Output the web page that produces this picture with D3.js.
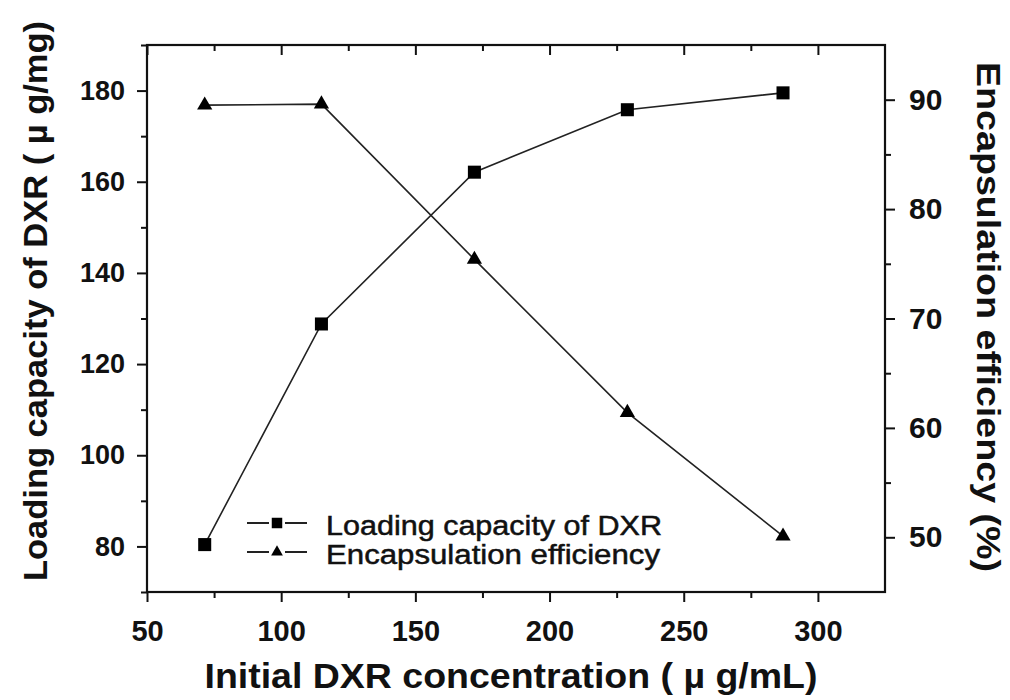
<!DOCTYPE html>
<html>
<head>
<meta charset="utf-8">
<script src="https://cdn.jsdelivr.net/npm/d3@7"></script>
<style>
  html, body { margin: 0; padding: 0; background: #fff; }
  svg { display: block; }
  text { font-family: "Liberation Sans", Arial, sans-serif; fill: #111; }
</style>
</head>
<body>
<svg id="chart" width="1010" height="700"></svg>
<script>
// Initial DXR concentration (µg/mL)
const concentration = [71.5, 115, 172, 229, 287];
// Loading capacity of DXR (µg/mg), left axis
const loadingCapacity = [80.4, 128.8, 162.1, 175.8, 179.5];
// Encapsulation efficiency (%), right axis
const encapsulation = [89.5, 89.6, 75.4, 61.4, 50.1];

const xTicks = [50, 100, 150, 200, 250, 300];
const leftTicks = [80, 100, 120, 140, 160, 180];
const rightTicks = [50, 60, 70, 80, 90];

const seriesNames = ["Loading capacity of DXR", "Encapsulation efficiency"];

const W = 1010, H = 700;
const m = { left: 147, right: 125, top: 45, bottom: 108 };
const iw = W - m.left - m.right, ih = H - m.top - m.bottom;

const svg = d3.select("#chart");
const g = svg.append("g").attr("transform", `translate(${m.left},${m.top})`);

const x = d3.scaleLinear().domain([50, 325]).range([0, iw]);
const yL = d3.scaleLinear().domain([70, 190]).range([ih, 0]);
const yR = d3.scaleLinear().domain([45, 95]).range([ih, 0]);

const ink = "#111";
const fam = "'Liberation Sans', Arial, sans-serif";

function styleAxis(size) {
  return sel => {
    sel.select(".domain").remove();
    sel.selectAll("line").attr("stroke", ink).attr("stroke-width", 2);
    sel.selectAll("text").style("font", `bold ${size}px ${fam}`).attr("fill", ink);
  };
}

// minor tick positions
const xMinor = d3.range(75, 325, 50);
const lMinor = d3.range(70, 191, 20);
const rMinor = d3.range(55, 95, 10);

// bottom axis (outward ticks)
g.append("g").attr("transform", `translate(0,${ih})`)
  .call(d3.axisBottom(x).tickValues(xTicks).tickSize(10).tickPadding(18).tickFormat(d3.format("d")))
  .call(styleAxis(29));
g.append("g").attr("transform", `translate(0,${ih})`)
  .call(d3.axisBottom(x).tickValues(xMinor).tickSize(6).tickFormat(""))
  .call(styleAxis(29));

// top axis (inward ticks)
g.append("g")
  .call(d3.axisBottom(x).tickValues(xTicks).tickSize(10).tickFormat(""))
  .call(styleAxis(29));
g.append("g")
  .call(d3.axisBottom(x).tickValues(xMinor).tickSize(6).tickFormat(""))
  .call(styleAxis(29));

// left axis
g.append("g")
  .call(d3.axisLeft(yL).tickValues(leftTicks).tickSize(10).tickPadding(12).tickFormat(d3.format("d")))
  .call(styleAxis(27));
g.append("g")
  .call(d3.axisLeft(yL).tickValues(lMinor).tickSize(6).tickFormat(""))
  .call(styleAxis(27));

// right axis
g.append("g").attr("transform", `translate(${iw},0)`)
  .call(d3.axisRight(yR).tickValues(rightTicks).tickSize(10).tickPadding(14).tickFormat(d3.format("d")))
  .call(styleAxis(30));
g.append("g").attr("transform", `translate(${iw},0)`)
  .call(d3.axisRight(yR).tickValues(rMinor).tickSize(6).tickFormat(""))
  .call(styleAxis(30));

// frame
g.append("rect").attr("width", iw).attr("height", ih)
  .attr("fill", "none").attr("stroke", ink).attr("stroke-width", 2.2);

// series
const loadData = concentration.map((c, i) => ({ x: c, y: loadingCapacity[i] }));
const encData = concentration.map((c, i) => ({ x: c, y: encapsulation[i] }));

g.append("path").datum(loadData)
  .attr("fill", "none").attr("stroke", "#222").attr("stroke-width", 1.6)
  .attr("d", d3.line().x(d => x(d.x)).y(d => yL(d.y)));
g.append("path").datum(encData)
  .attr("fill", "none").attr("stroke", "#222").attr("stroke-width", 1.6)
  .attr("d", d3.line().x(d => x(d.x)).y(d => yR(d.y)));

const sq = d3.symbol().type(d3.symbolSquare).size(170);
const tri = d3.symbol().type(d3.symbolTriangle).size(100);

g.selectAll(".sq").data(loadData).join("path")
  .attr("d", sq).attr("fill", "#000")
  .attr("transform", d => `translate(${x(d.x)},${yL(d.y)})`);
g.selectAll(".tri").data(encData).join("path")
  .attr("d", tri).attr("fill", "#000")
  .attr("transform", d => `translate(${x(d.x)},${yR(d.y)})`);

// legend
const leg = g.append("g").attr("transform", `translate(${247 - m.left},${523 - m.top})`);
const legSyms = [d3.symbol().type(d3.symbolSquare).size(110), d3.symbol().type(d3.symbolTriangle).size(60)];
seriesNames.forEach((name, i) => {
  const row = leg.append("g").attr("transform", `translate(0,${i * 29})`);
  row.append("line").attr("x1", 0).attr("x2", 60).attr("y1", 0).attr("y2", 0)
    .attr("stroke", "#222").attr("stroke-width", 2);
  row.append("rect").attr("x", 22).attr("y", -7).attr("width", 16).attr("height", 14).attr("fill", "#fff");
  row.append("path").attr("d", legSyms[i]).attr("fill", "#000").attr("transform", "translate(30,0)");
  row.append("text").attr("x", 79).attr("y", 12)
    .style("font", `27px ${fam}`)
    .attr("stroke", "#111").attr("stroke-width", 0.5)
    .attr("textLength", i === 0 ? 336 : 334).attr("lengthAdjust", "spacingAndGlyphs")
    .text(name);
});

// axis titles
svg.append("text")
  .attr("x", 511).attr("y", 688)
  .attr("text-anchor", "middle")
  .style("font", `bold 35px ${fam}`)
  .attr("textLength", 613).attr("lengthAdjust", "spacingAndGlyphs")
  .text("Initial DXR concentration ( µ g/mL)");

svg.append("text")
  .attr("transform", `translate(47,301) rotate(-90)`)
  .attr("text-anchor", "middle")
  .style("font", `bold 34px ${fam}`)
  .attr("textLength", 560).attr("lengthAdjust", "spacingAndGlyphs")
  .text("Loading capacity of DXR ( µ g/mg)");

svg.append("text")
  .attr("transform", `translate(977,317) rotate(90)`)
  .attr("text-anchor", "middle")
  .style("font", `bold 34px ${fam}`)
  .attr("textLength", 510).attr("lengthAdjust", "spacingAndGlyphs")
  .text("Encapsulation efficiency (%)");
</script>
</body>
</html>
